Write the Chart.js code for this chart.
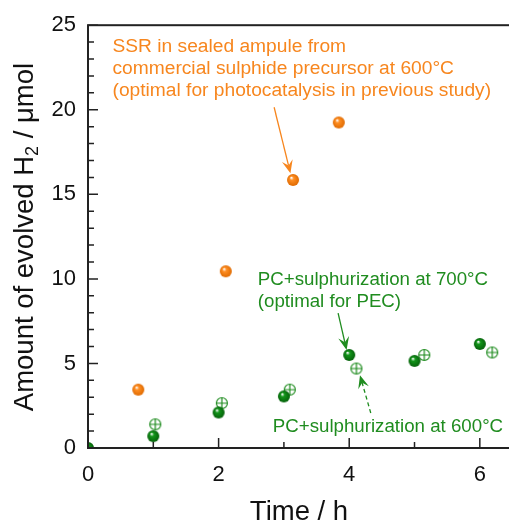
<!DOCTYPE html>
<html>
<head>
<meta charset="utf-8">
<script src="https://cdn.jsdelivr.net/npm/chart.js@4.4.0/dist/chart.umd.min.js"></script>
<style>
html, body { margin: 0; padding: 0; background: #fff; overflow: hidden; }
#caixa { width: 524px; height: 525px; }
</style>
</head>
<body>
<div id="caixa"><canvas id="grafico" width="524" height="525"></canvas></div>
<script>
// Dados
const horasSSR = [0.77, 2.11, 3.14, 3.84];
const h2SSR = [3.45, 10.45, 15.85, 19.25];

const horasPC700 = [0, 1, 2, 3, 4, 5, 6];
const h2PC700 = [0, 0.7, 2.1, 3.05, 5.5, 5.15, 6.15];

const horasPC600 = [1.03, 2.05, 3.09, 4.11, 5.15, 6.19];
const h2PC600 = [1.4, 2.65, 3.45, 4.7, 5.5, 5.65];

const ticksX = [0, 2, 4, 6];
const ticksY = [0, 5, 10, 15, 20, 25];

const textoSSR = ['SSR in sealed ampule from',
    'commercial sulphide precursor at 600°C',
    '(optimal for photocatalysis in previous study)'];
const textoPC700 = ['PC+sulphurization at 700°C', '(optimal for PEC)'];
const textoPC600 = 'PC+sulphurization at 600°C';

const corLaranja = '#f7861e';
const corVerde = '#1f8c1f';
const fonte = '"Liberation Sans", Arial, sans-serif';

function criarEsfera(cor, escuro, raio) {
    const c = document.createElement('canvas');
    const s = raio * 2 + 2;
    c.width = s; c.height = s;
    const g = c.getContext('2d');
    const cx = s / 2, cy = s / 2;
    const grad = g.createRadialGradient(cx - raio * 0.3, cy - raio * 0.4, raio * 0.05, cx, cy, raio);
    grad.addColorStop(0, '#ffffff');
    grad.addColorStop(0.3, cor);
    grad.addColorStop(1, escuro);
    g.fillStyle = grad;
    g.beginPath();
    g.arc(cx, cy, raio, 0, Math.PI * 2);
    g.fill();
    return c;
}

function criarMira(cor, raio) {
    const c = document.createElement('canvas');
    const s = raio * 2 + 3;
    c.width = s; c.height = s;
    const g = c.getContext('2d');
    const cx = s / 2, cy = s / 2;
    g.fillStyle = '#fff';
    g.strokeStyle = cor;
    g.lineWidth = 1.2;
    g.beginPath();
    g.arc(cx, cy, raio, 0, Math.PI * 2);
    g.fill();
    g.moveTo(cx - raio, cy); g.lineTo(cx + raio, cy);
    g.moveTo(cx, cy - raio); g.lineTo(cx, cy + raio);
    g.stroke();
    return c;
}

function seta(ctx, x1, y1, x2, y2, cor, tracejada) {
    const ang = Math.atan2(y2 - y1, x2 - x1);
    const comp = 13, larg = 5.5;
    ctx.save();
    ctx.strokeStyle = cor;
    ctx.fillStyle = cor;
    ctx.lineWidth = 1.3;
    if (tracejada) ctx.setLineDash([4, 3]);
    ctx.beginPath();
    ctx.moveTo(x1, y1);
    ctx.lineTo(x2 - Math.cos(ang) * comp * 0.6, y2 - Math.sin(ang) * comp * 0.6);
    ctx.stroke();
    ctx.setLineDash([]);
    ctx.translate(x2, y2);
    ctx.rotate(ang);
    ctx.beginPath();
    ctx.moveTo(0, 0);
    ctx.lineTo(-comp, -larg);
    ctx.lineTo(-comp * 0.6, 0);
    ctx.lineTo(-comp, larg);
    ctx.closePath();
    ctx.fill();
    ctx.restore();
}

function escreverLinhas(ctx, linhas, x, y, passo) {
    linhas.forEach((l, i) => ctx.fillText(l, x, y + i * passo));
}

const desenhoExtra = {
    id: 'desenhoExtra',
    afterDraw(chart) {
        const { ctx, chartArea: a } = chart;
        const sx = chart.scales.x, sy = chart.scales.y;
        const px = v => sx.getPixelForValue(v);
        const py = v => sy.getPixelForValue(v);

        ctx.save();
        // moldura
        ctx.strokeStyle = '#222';
        ctx.lineWidth = 2;
        ctx.strokeRect(a.left, a.top, a.right - a.left, a.bottom - a.top);

        // marcas para dentro
        ctx.lineWidth = 1.5;
        ctx.beginPath();
        for (let v = 0; v <= 25; v++) {
            const t = ticksY.includes(v) ? 10 : 6;
            ctx.moveTo(a.left, py(v)); ctx.lineTo(a.left + t, py(v));
        }
        for (let v = 0; v <= 6; v++) {
            const t = ticksX.includes(v) ? 10 : 6;
            ctx.moveTo(px(v), a.bottom); ctx.lineTo(px(v), a.bottom - t);
        }
        ctx.stroke();

        // títulos dos eixos
        ctx.fillStyle = '#111';
        ctx.font = '27.5px ' + fonte;
        ctx.textAlign = 'center';
        ctx.textBaseline = 'alphabetic';
        ctx.fillText('Time / h', 299, 520);

        ctx.save();
        ctx.translate(33, 237);
        ctx.rotate(-Math.PI / 2);
        ctx.textAlign = 'left';
        const p1 = 'Amount of evolved H', p2 = '2', p3 = ' / μmol';
        ctx.font = '27.5px ' + fonte;
        const w1 = ctx.measureText(p1).width, w3 = ctx.measureText(p3).width;
        ctx.font = '18px ' + fonte;
        const w2 = ctx.measureText(p2).width;
        let x0 = -(w1 + w2 + w3) / 2;
        ctx.font = '27.5px ' + fonte;
        ctx.fillText(p1, x0, 0);
        ctx.font = '18px ' + fonte;
        ctx.fillText(p2, x0 + w1, 5);
        ctx.font = '27.5px ' + fonte;
        ctx.fillText(p3, x0 + w1 + w2, 0);
        ctx.restore();

        // anotações
        ctx.textAlign = 'left';
        ctx.font = '19.2px ' + fonte;
        ctx.fillStyle = corLaranja;
        escreverLinhas(ctx, textoSSR, px(0.375), py(23.4), 22);
        seta(ctx, px(2.85), py(20.15), px(3.10), py(16.25), corLaranja, false);

        ctx.font = '18.7px ' + fonte;
        ctx.fillStyle = corVerde;
        escreverLinhas(ctx, textoPC700, px(2.6), py(9.63), 22);
        seta(ctx, px(3.83), py(7.98), px(3.96), py(5.8), corVerde, false);

        ctx.fillText(textoPC600, px(2.83), py(0.96));
        seta(ctx, px(4.33), py(2.07), px(4.165), py(4.3), corVerde, true);
        ctx.restore();
    }
};

const esferaLaranja = criarEsfera('#ff8f24', '#e06a00', 6);
const esferaVerde = criarEsfera('#13951a', '#05610a', 6);
const miraVerde = criarMira(corVerde, 5.5);

new Chart(document.getElementById('grafico').getContext('2d'), {
    type: 'scatter',
    data: {
        datasets: [
            {
                label: 'SSR 600',
                data: horasSSR.map((h, i) => ({ x: h, y: h2SSR[i] })),
                pointStyle: esferaLaranja
            },
            {
                label: 'PC 700',
                data: horasPC700.map((h, i) => ({ x: h, y: h2PC700[i] })),
                pointStyle: esferaVerde,
                clip: 0
            },
            {
                label: 'PC 600',
                data: horasPC600.map((h, i) => ({ x: h, y: h2PC600[i] })),
                pointStyle: miraVerde
            }
        ]
    },
    options: {
        responsive: false,
        animation: false,
        layout: { padding: { top: 25, right: 5, left: 0, bottom: 0 } },
        plugins: { legend: { display: false }, tooltip: { enabled: false } },
        scales: {
            x: {
                type: 'linear',
                min: 0,
                max: 6.6,
                grid: { display: false, drawTicks: false },
                border: { display: false },
                afterBuildTicks: s => { s.ticks = ticksX.map(v => ({ value: v })); },
                afterFit: s => { s.height = 77; },
                ticks: { padding: 14, color: '#111', font: { size: 22, family: fonte } }
            },
            y: {
                min: 0,
                max: 25,
                grid: { display: false, drawTicks: false },
                border: { display: false },
                afterBuildTicks: s => { s.ticks = ticksY.map(v => ({ value: v })); },
                afterFit: s => { s.width = 88; },
                ticks: { padding: 12, color: '#111', font: { size: 22, family: fonte } }
            }
        }
    },
    plugins: [desenhoExtra]
});
</script>
</body>
</html>
